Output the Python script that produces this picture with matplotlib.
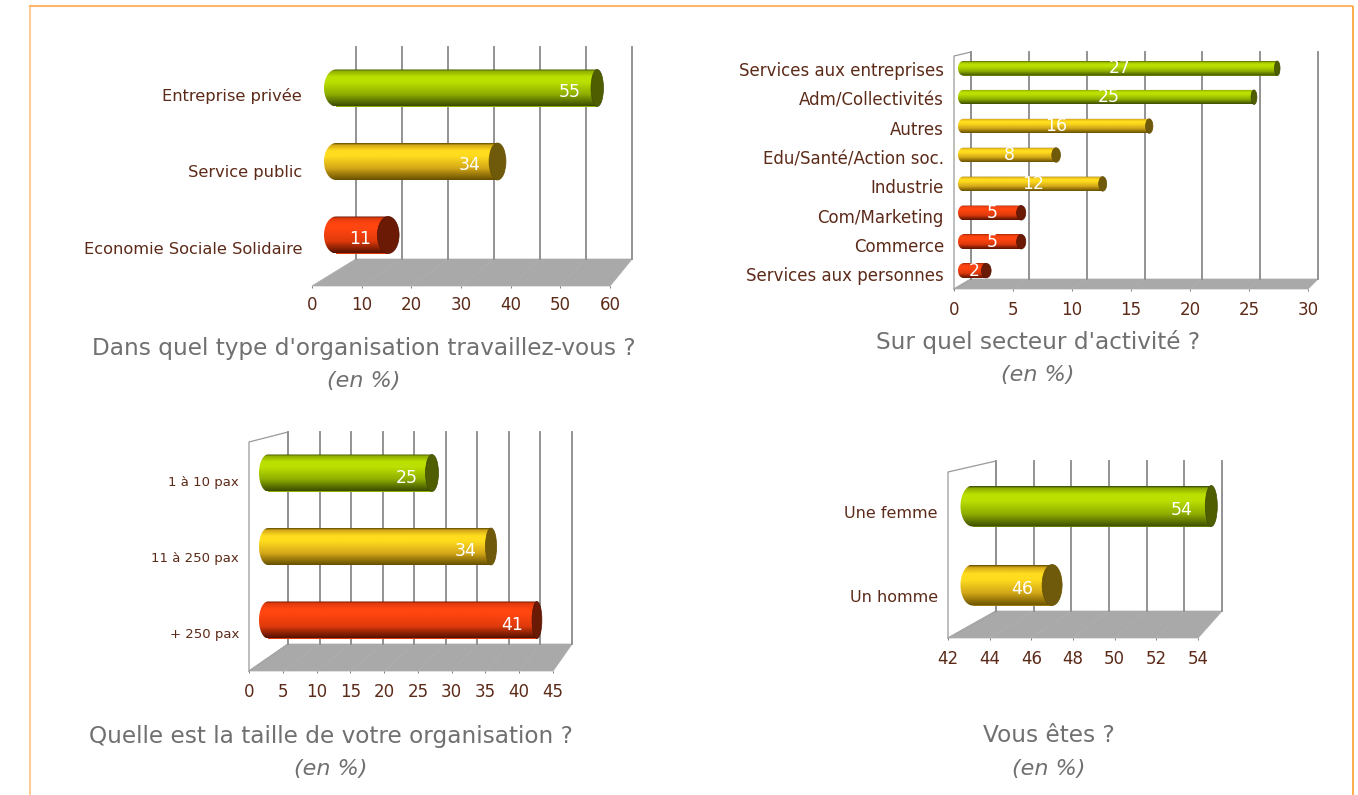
import numpy as np
import matplotlib
matplotlib.use("Agg")
import matplotlib.pyplot as plt
from matplotlib.colors import LinearSegmentedColormap
from matplotlib.patches import Ellipse, Polygon
from matplotlib.path import Path

plt.rcParams['font.family'] = ['DejaVu Sans']

W, H = 1358, 795

# ---- data ----
org_labels = ["Entreprise privée", "Service public", "Economie Sociale Solidaire"]
org_values = [55, 34, 11]
org_colors = ["green", "yellow", "red"]
org_ticks = [0, 10, 20, 30, 40, 50, 60]

sector_labels = ["Services aux entreprises", "Adm/Collectivités", "Autres",
                 "Edu/Santé/Action soc.", "Industrie", "Com/Marketing",
                 "Commerce", "Services aux personnes"]
sector_values = [27, 25, 16, 8, 12, 5, 5, 2]
sector_colors = ["green", "green", "yellow", "yellow", "yellow", "red", "red", "red"]
sector_ticks = [0, 5, 10, 15, 20, 25, 30]

size_labels = ["1 à 10 pax", "11 à 250 pax", "+ 250 pax"]
size_values = [25, 34, 41]
size_colors = ["green", "yellow", "red"]
size_ticks = [0, 5, 10, 15, 20, 25, 30, 35, 40, 45]

gender_labels = ["Une femme", "Un homme"]
gender_values = [54, 46]
gender_colors = ["green", "yellow"]
gender_ticks = [42, 44, 46, 48, 50, 52, 54]

PALETTE = {
    "green": dict(bright="#bbe000", mid="#8fae00", dark="#3c4d00", cap="#4e5e00"),
    "yellow": dict(bright="#ffdc1e", mid="#d4a818", dark="#685000", cap="#6e5a0a"),
    "red": dict(bright="#ff4510", mid="#e03a0c", dark="#561200", cap="#6a1a05"),
}
TICK_C = "#5c2a18"
TITLE_C = "#707070"
GRID_C = "#8f8f8f"
FLOOR_C = "#a9a9a9"

fig = plt.figure(figsize=(W / 100, H / 100), dpi=100, facecolor="white")


def axes_px(x0, y0, x1, y1, **kw):
    """Axes whose box is given in image pixels (y downwards)."""
    return fig.add_axes([x0 / W, 1 - y1 / H, (x1 - x0) / W, (y1 - y0) / H], **kw)


overlay = axes_px(0, 0, W, H, zorder=0)
overlay.set_xlim(0, W)
overlay.set_ylim(H, 0)
overlay.axis("off")

# page frame: left, top and right edges have slightly different tints
overlay.plot([30, 30], [H, 6], color="#ffcb96", lw=1.5, solid_capstyle="butt")
overlay.plot([29, 1353], [6, 6], color="#ffb56a", lw=1.5, solid_capstyle="butt")
overlay.plot([1352.5, 1352.5], [6, H], color="#ffa53f", lw=1.3, solid_capstyle="butt")


def panel(labels, values, colors, ticks, front, back, wall_top, bars, label_size,
          tick_size, tick_pad, value_mode, value_off, value_dy, title, title_xy):
    n = len(values)
    vmin, vmax = ticks[0], ticks[-1]
    fl, fr, fy = front
    bl, br, by, btop = back

    # floor
    overlay.add_patch(Polygon([(fl, fy), (fr, fy), (br, by), (bl, by)],
                              closed=True, fc=FLOOR_C, ec=FLOOR_C, lw=0.5, zorder=1))
    # wall
    if wall_top is not None:
        overlay.plot([fl, fl, bl, bl], [fy, wall_top, btop, by],
                     color="#9a9a9a", lw=0.9, zorder=1)
        overlay.plot([fl, bl], [fy, by], color="#9a9a9a", lw=0.9, zorder=1)
    # floor diagonals
    for t in ticks:
        f = (t - vmin) / (vmax - vmin)
        overlay.plot([fl + f * (fr - fl), bl + f * (br - bl)], [fy, by],
                     color="#b2b2b2", lw=0.4, zorder=2)

    # back wall with the grid lines
    gax = axes_px(bl, btop, br, by, zorder=1)
    gax.patch.set_visible(False)
    gax.set_xlim(vmin, vmax)
    gax.set_ylim(0, 1)
    gax.set_xticks(ticks)
    gax.set_yticks([])
    gax.tick_params(length=0, labelbottom=False)
    gax.grid(axis="x", color=GRID_C, lw=1.35)
    gax.set_axisbelow(False)
    for s in gax.spines.values():
        s.set_visible(False)
    for line in gax.get_xgridlines():
        line.set_clip_on(False)

    # front axis: tick labels and category labels
    spacing = bars["label_step"]
    fax = axes_px(fl, fy - n * spacing, fr, fy, zorder=1)
    fax.patch.set_visible(False)
    fax.set_xlim(vmin, vmax)
    fax.set_ylim(n - 0.5, -0.5)
    fax.set_xticks(ticks)
    fax.set_xticklabels([str(t) for t in ticks], fontsize=tick_size, color=TICK_C)
    fax.set_yticks(range(n))
    fax.set_yticklabels(labels, fontsize=label_size, color=TICK_C)
    fax.tick_params(axis="x", length=1.5, color="#666666", width=0.6, pad=tick_pad)
    fax.tick_params(axis="y", length=0, pad=7.2)
    for s in fax.spines.values():
        s.set_visible(False)

    # bar plane
    x0, scale = bars["x0"], bars["scale"]
    y0, step, hpx = bars["y0"], bars["step"], bars["height"]
    hw0, hw1 = bars["hw0"], bars["hw1"]
    px_left, px_right = x0, x0 + scale * (vmax - vmin)
    bax = axes_px(px_left, y0 - step / 2, px_right, y0 + step * (n - 0.5), zorder=3)
    bax.patch.set_visible(False)
    bax.axis("off")
    bax.set_xlim(vmin, vmax)
    bax.set_ylim(n - 0.5, -0.5)
    h = hpx / step

    for i, (v, c) in enumerate(zip(values, colors)):
        pal = PALETTE[c]
        frac = (v - vmin) / (vmax - vmin)
        hw_px = hw0 + (hw1 - hw0) * frac
        hw = hw_px / scale
        hwl = hw0 / scale
        # the bar itself
        bax.barh(i, v - vmin, left=vmin, height=h, color=pal["mid"], zorder=2, clip_on=False)
        # cylinder gradient, clipped to the outline
        cmap = LinearSegmentedColormap.from_list(c, [
            (0.0, pal["dark"]), (0.05, pal["mid"]), (0.2, pal["bright"]),
            (0.35, pal["bright"]), (0.68, pal["mid"]), (1.0, pal["dark"])])
        grad = np.linspace(0, 1, 64).reshape(-1, 1)
        im = bax.imshow(grad, cmap=cmap, aspect="auto", zorder=3,
                        extent=(vmin - hwl, v + hw, i + h / 2, i - h / 2),
                        interpolation="bilinear")
        th = np.linspace(-np.pi / 2, -3 * np.pi / 2, 30)
        xs = np.r_[vmin + hwl * np.cos(th), v, v, vmin]
        ys = np.r_[i + h / 2 * np.sin(th), i + h / 2, i - h / 2, i - h / 2]
        im.set_clip_path(Path(np.c_[xs, ys]), transform=bax.transData)
        im.set_clip_box(fig.bbox)
        bax.add_patch(Ellipse((v, i), 2 * hw, h, fc=pal["cap"], ec=pal["dark"], lw=0.5,
                              zorder=4, clip_on=False))
        # value label
        if value_mode == "mid":
            xt = (vmin + v) / 2
        else:
            xt = v - value_off / scale
        bax.annotate(str(v), (xt, i), xytext=(0, -value_dy * 0.72), textcoords="offset points",
                     ha="center", va="center", color="white", fontsize=12.5,
                     zorder=5, annotation_clip=False)

    bax.set_xlim(vmin, vmax)
    bax.set_ylim(n - 0.5, -0.5)

    # titles
    tx, ty, ty2 = title_xy
    overlay.text(tx, ty, title, fontsize=16.7, color=TITLE_C, ha="center", va="center")
    overlay.text(tx, ty2, "(en %)", fontsize=16, color=TITLE_C, ha="center", va="center",
                 style="italic")


panel(org_labels, org_values, org_colors, org_ticks,
      front=(312, 610, 286), back=(356, 632, 259, 47), wall_top=None,
      bars=dict(x0=336, scale=4.75, y0=88, step=73.5, height=37, hw0=12, hw1=5.7, label_step=76.5),
      label_size=11.7, tick_size=12, tick_pad=5.5, value_mode="end", value_off=28, value_dy=4,
      title="Dans quel type d'organisation travaillez-vous ?", title_xy=(364, 348, 381))

panel(sector_labels, sector_values, sector_colors, sector_ticks,
      front=(954, 1308, 289), back=(971, 1318, 279, 52), wall_top=56,
      bars=dict(x0=963, scale=11.64, y0=68.3, step=28.9, height=14.5, hw0=5, hw1=2.5, label_step=29.3),
      label_size=12, tick_size=12, tick_pad=7.5, value_mode="mid", value_off=0, value_dy=0,
      title="Sur quel secteur d'activité ?", title_xy=(1038, 342, 375))

panel(size_labels, size_values, size_colors, size_ticks,
      front=(249, 553, 671), back=(288, 572, 644, 432), wall_top=442,
      bars=dict(x0=268, scale=6.56, y0=473, step=73.5, height=37, hw0=9, hw1=4.5, label_step=76),
      label_size=9.5, tick_size=12, tick_pad=7, value_mode="end", value_off=25, value_dy=5,
      title="Quelle est la taille de votre organisation ?", title_xy=(331, 736, 769))

panel(gender_labels, gender_values, gender_colors, gender_ticks,
      front=(948, 1198, 638), back=(996, 1222, 611, 461), wall_top=472,
      bars=dict(x0=972.5, scale=19.9, y0=506, step=79, height=41, hw0=12, hw1=6, label_step=84),
      label_size=11.5, tick_size=12, tick_pad=7.5, value_mode="end", value_off=30, value_dy=4,
      title="Vous êtes ?", title_xy=(1049, 736, 769))

fig.savefig("out.png", dpi=100, facecolor="white")
